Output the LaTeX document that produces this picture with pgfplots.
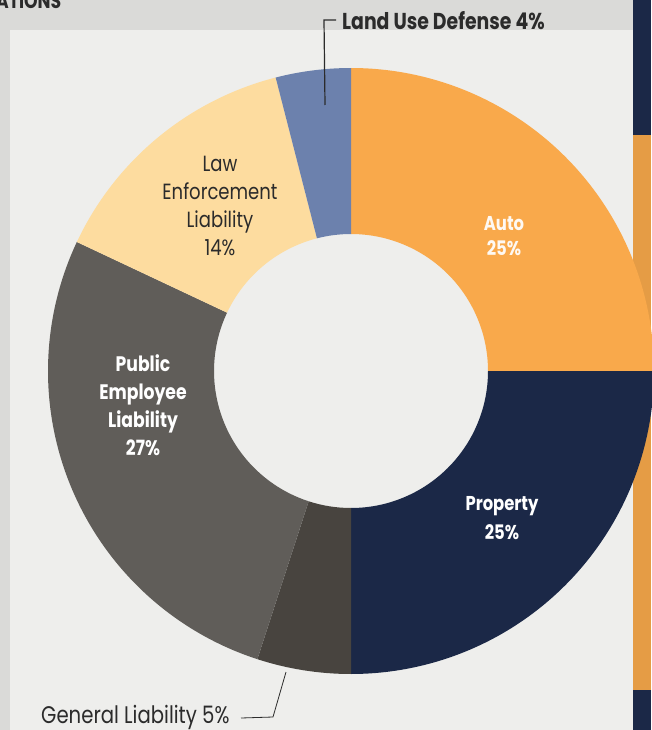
\documentclass[border=0pt]{standalone}
\usepackage{pgfplots}
\pgfplotsset{compat=1.18}
\usepackage{pgfplotstable}
\usepackage{fontspec}
\setmainfont{Poppins}[FakeStretch=0.82]

\definecolor{cAuto}{HTML}{F9A94B}
\definecolor{cProperty}{HTML}{1B2847}
\definecolor{cGeneral}{HTML}{48443F}
\definecolor{cPublic}{HTML}{605D59}
\definecolor{cLaw}{HTML}{FDDC9F}
\definecolor{cLand}{HTML}{6C81AD}
\definecolor{panel}{HTML}{EEEEEC}
\definecolor{band}{HTML}{DADAD8}
\definecolor{ink}{HTML}{2B2B2B}

% share of the claims, clockwise from 12 o'clock
\pgfplotstableread{
name value colour
Auto 25 cAuto
Property 25 cProperty
General 5 cGeneral
Public 27 cPublic
Law 14 cLaw
Land 4 cLand
}\slices

% centre and radii of the ring, in picture pixels
\def\cx{351}
\def\cy{371}
\def\Rout{303}
\def\Rin{137}

\begin{document}
\begin{tikzpicture}
\begin{axis}[
    scale only axis,
    width=651pt, height=730pt,
    xmin=0, xmax=651, ymin=0, ymax=730,
    y dir=reverse,
    hide axis,
    clip=false,
]
\pgfplotsextra{
    % page background
    \fill[band] (axis cs:0,0) rectangle (axis cs:651,730);
    \fill[panel] (axis cs:10,30) rectangle (axis cs:633,730);
    \fill[cProperty] (axis cs:633,0) rectangle (axis cs:651,730);
    \fill[cAuto!92!black] (axis cs:633,135) rectangle (axis cs:651,690);
    % the ring
    \pgfplotstablegetrowsof{\slices}
    \pgfmathtruncatemacro\lastrow{\pgfplotsretval-1}
    \xdef\cum{0}
    \foreach \i in {0,...,\lastrow}{
        \pgfplotstablegetelem{\i}{value}\of\slices
        \let\val\pgfplotsretval
        \pgfplotstablegetelem{\i}{colour}\of\slices
        \edef\col{\pgfplotsretval}
        \pgfmathsetmacro\angA{90-3.6*\cum}
        \pgfmathsetmacro\angB{90-3.6*(\cum+\val)}
        \pgfmathsetmacro\newcum{\cum+\val}
        \xdef\cum{\newcum}
        \fill[\col] (axis cs:{\cx+\Rout*cos(\angA)},{\cy-\Rout*sin(\angA)})
            arc[start angle=\angA, end angle=\angB, radius=\Rout pt]
            -- (axis cs:{\cx+\Rin*cos(\angB)},{\cy-\Rin*sin(\angB)})
            arc[start angle=\angB, end angle=\angA, radius=\Rin pt] -- cycle;
    }
}

\node[font=\bfseries\fontsize{21}{26}\selectfont, text=ink, anchor=south west, inner sep=0]
    at (axis cs:-4,9) {ATIONS};

% labels inside the ring
\node[font=\bfseries\fontsize{20}{25}\selectfont, text=white!93!cAuto, align=center, inner sep=0]
    at (axis cs:504,236) {Auto\\25\%};
\node[font=\bfseries\fontsize{20}{29}\selectfont, text=white, align=center, inner sep=0]
    at (axis cs:502,518) {Property\\25\%};
\node[font=\bfseries\fontsize{21}{28}\selectfont, text=white, align=center, inner sep=0]
    at (axis cs:143,405) {Public\\Employee\\Liability\\27\%};
\node[font=\fontsize{22}{27.7}\selectfont, text=ink, align=center, inner sep=0]
    at (axis cs:220,206) {Law\\Enforcement\\Liability\\14\%};

% outside labels with leaders
\draw[ink, line width=1.2pt] (axis cs:336,20) -- (axis cs:324,20) -- (axis cs:325,105);
\node[font=\bfseries\fontsize{23}{28}\selectfont, text=ink, anchor=west, inner sep=0]
    at (axis cs:342,21) {Land Use Defense 4\%};
\draw[ink, line width=0.8pt] (axis cs:241,718) -- (axis cs:273,717) -- (axis cs:286,672);
\node[font=\fontsize{24}{28}\selectfont, text=ink, anchor=west, inner sep=0]
    at (axis cs:41,717) {General Liability 5\%};
\end{axis}
\pgfresetboundingbox
\path[use as bounding box] (0,0) rectangle (651pt,730pt);
\end{tikzpicture}
\end{document}
